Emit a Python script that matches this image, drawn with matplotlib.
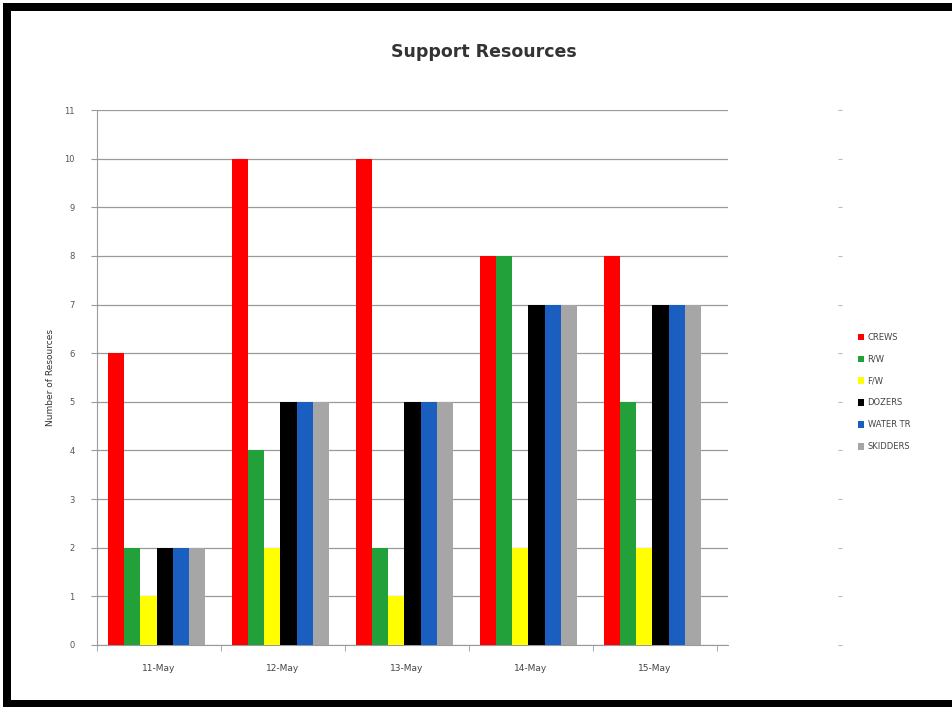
import matplotlib
matplotlib.use("Agg")
import matplotlib.pyplot as plt
from matplotlib.patches import Rectangle
import numpy as np

categories = ["11-May", "12-May", "13-May", "14-May", "15-May"]
series_names = ["CREWS", "R/W", "F/W", "DOZERS", "WATER TR", "SKIDDERS"]
crews = [6, 10, 10, 8, 8]
rw = [2, 4, 2, 8, 5]
fw = [1, 2, 1, 2, 2]
dozers = [2, 5, 5, 7, 7]
water_tr = [2, 5, 5, 7, 7]
skidders = [2, 5, 5, 7, 7]
yticks = list(range(0, 12))

series = [crews, rw, fw, dozers, water_tr, skidders]
colors = ["#FF0000", "#22A03A", "#FFFF00", "#000000", "#1A5FC0", "#A6A6A6"]

W, H = 952, 710
fig = plt.figure(figsize=(W/100, H/100), dpi=100)
fig.patch.set_facecolor("white")

def frect(x0, y0, x1, y1):
    # pixel coords from top-left
    fig.patches.append(Rectangle((x0/W, 1-y1/H), (x1-x0)/W, (y1-y0)/H,
                                 transform=fig.transFigure, facecolor="black",
                                 edgecolor="none"))

frect(3, 3, 11, 707)     # left
frect(3, 3, 952, 11)     # top
frect(3, 700, 952, 707)  # bottom

ax = fig.add_axes([97/W, 1-645/H, 631/W, 535/H])
x = np.arange(len(categories))
bw = 0.131
for i, (vals, c, name) in enumerate(zip(series, colors, series_names)):
    offs = (i - 2.5) * bw - 0.02
    ax.bar(x + offs, vals, width=bw, color=c, label=name, zorder=3, linewidth=0)

ax.set_xlim(-0.5, 4.59)
ax.set_ylim(0, 11)
ax.set_yticks(yticks)
ax.yaxis.grid(True, color="#9A9A9A", linewidth=0.9, zorder=0)
ax.set_axisbelow(True)
for s in ["top", "right"]:
    ax.spines[s].set_visible(False)
ax.spines["left"].set_color("#9A9A9A")
ax.spines["bottom"].set_color("#9A9A9A")
ax.tick_params(axis="y", labelsize=6, colors="#9A9A9A", labelcolor="#555555",
               length=4, direction="out", pad=12)
ax.set_xticks(x)
ax.set_xticklabels(categories, fontsize=6.5, color="#444444")
ax.tick_params(axis="x", length=0, pad=14)
ax.set_xticks(np.arange(-0.5, 5.0, 1.0), minor=True)
ax.tick_params(axis="x", which="minor", length=4, colors="#9A9A9A")
ax.set_ylabel("Number of Resources", fontsize=6.5, color="#333333", labelpad=7)

# secondary axis tick marks at right
ax2 = ax.twinx()
ax2.set_ylim(0, 11)
ax2.set_yticks(yticks)
ax2.spines[["top", "left", "bottom"]].set_visible(False)
ax2.spines["right"].set_position(("axes", (838-97)/631))
ax2.spines["right"].set_visible(False)
ax2.tick_params(axis="y", length=3, colors="#BBBBBB", labelright=False, direction="out")

fig.text(484/W, 1-52/H, "Support Resources", ha="center", va="center",
         fontsize=12.5, fontweight="bold", color="#333333")

leg = ax.legend(loc="center left", bbox_to_anchor=(850/W, 1-392/H),
                bbox_transform=fig.transFigure, frameon=False, fontsize=6,
                handlelength=0.8, handleheight=0.8, labelspacing=1.55, handletextpad=0.4)
for t in leg.get_texts():
    t.set_color("#444444")

fig.savefig("out.png", dpi=100)
